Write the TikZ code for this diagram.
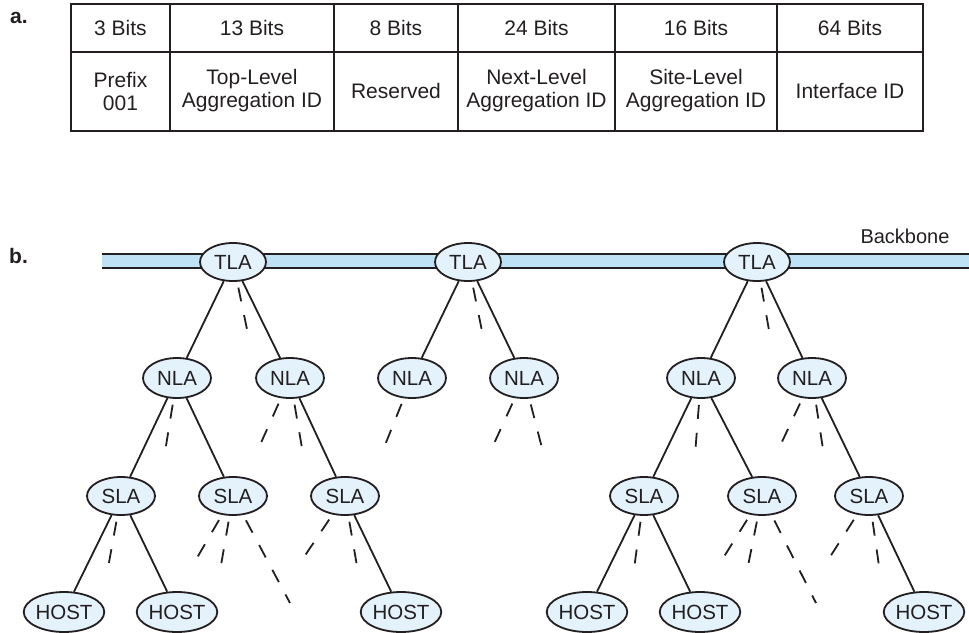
\documentclass[tikz,border=0pt]{standalone}
\usepackage{fontspec}
\setmainfont{Liberation Sans}
\usetikzlibrary{shapes.geometric,calc}
\definecolor{ink}{HTML}{231F20}
\definecolor{bbfill}{HTML}{BEE1F6}
\definecolor{nodefill}{HTML}{E4F2FC}
\begin{document}
\begin{tikzpicture}[x=1pt,y=-1pt,
  every node/.style={text=ink},
  celltext/.style={font=\fontsize{21}{23}\selectfont,align=center,inner sep=0pt},
  tag/.style={font=\fontsize{21}{23}\selectfont\bfseries,anchor=base west,inner sep=0pt},
  router/.style={ellipse,draw=ink,fill=nodefill,line width=1.8pt,inner sep=0pt,
    font=\fontsize{20.5}{22}\selectfont},
  tla/.style={router,minimum width=66pt,minimum height=38pt},
  nla/.style={router,minimum width=68pt,minimum height=40pt},
  sla/.style={router,minimum width=68pt,minimum height=38pt},
  host/.style={router,minimum width=78pt,minimum height=40pt},
  link/.style={draw=ink,line width=1.8pt},
  stub/.style={draw=ink,line width=1.8pt,dash pattern=on 14pt off 14pt,shorten <=6pt},
  grid/.style={draw=ink,line width=1.2pt}]
\useasboundingbox (0,0) rectangle (969,632);

% ---------- a. address format ----------
\node[tag] (la) at (10,23) {a.};
\draw[grid] (71,4) rectangle (923,131);
\draw[grid] (71,52) -- (923,52);
\foreach \x in {170,334,458,615,777} \draw[grid] (\x,4) -- (\x,131);

\node[celltext] (w1) at (120.5,28) {3 Bits};
\node[celltext] (w2) at (252,28) {13 Bits};
\node[celltext] (w3) at (396,28) {8 Bits};
\node[celltext] (w4) at (536.5,28) {24 Bits};
\node[celltext] (w5) at (696,28) {16 Bits};
\node[celltext] (w6) at (850,28) {64 Bits};

\node[celltext] (f1) at (120.5,91) {Prefix\\001};
\node[celltext] (f2) at (252,91) {Top-Level\\Aggregation ID};
\node[celltext] (f3) at (396,91) {Reserved};
\node[celltext] (f4) at (536.5,91) {Next-Level\\Aggregation ID};
\node[celltext] (f5) at (696,91) {Site-Level\\Aggregation ID};
\node[celltext] (f6) at (850,91) {Interface ID};

% ---------- b. hierarchy ----------
\node[tag] (lb) at (9,263) {b.};

% backbone bar
\fill[bbfill] (102,254) rectangle (969,268);
\draw[draw=ink,line width=2.4pt] (102,254) -- (969,254) (102,268) -- (969,268);
\node[font=\fontsize{20}{22}\selectfont,inner sep=0pt] (bb) at (905,236) {Backbone};

% top-level aggregators
\node[tla] (t1) at (233,262) {TLA};
\node[tla] (t2) at (468,262) {TLA};
\node[tla] (t3) at (757,262) {TLA};

% next-level aggregators
\node[nla] (n1) at (177,378) {NLA};
\node[nla] (n2) at (290,378) {NLA};
\node[nla] (n3) at (412,378) {NLA};
\node[nla] (n4) at (524,378) {NLA};
\node[nla] (n5) at (701,378) {NLA};
\node[nla] (n6) at (812,378) {NLA};

% site-level aggregators
\node[sla] (s1) at (121,496) {SLA};
\node[sla] (s2) at (233,496) {SLA};
\node[sla] (s3) at (345,496) {SLA};
\node[sla] (s4) at (644,496) {SLA};
\node[sla] (s5) at (762,496) {SLA};
\node[sla] (s6) at (869,496) {SLA};

% hosts
\node[host] (h1) at (64,612) {HOST};
\node[host] (h2) at (177,612) {HOST};
\node[host] (h3) at (401,612) {HOST};
\node[host] (h4) at (587,612) {HOST};
\node[host] (h5) at (700,612) {HOST};
\node[host] (h6) at (924,612) {HOST};

% solid links
\draw[link] (t1) -- (n1) (t1) -- (n2);
\draw[link] (t2) -- (n3) (t2) -- (n4);
\draw[link] (t3) -- (n5) (t3) -- (n6);
\draw[link] (n1) -- (s1) (n1) -- (s2);
\draw[link] (n2) -- (s3);
\draw[link] (n5) -- (s4) (n5) -- (s5);
\draw[link] (n6) -- (s6);
\draw[link] (s1) -- (h1) (s1) -- (h2);
\draw[link] (s3) -- (h3);
\draw[link] (s4) -- (h4) (s4) -- (h5);
\draw[link] (s6) -- (h6);

% dashed stubs: further branches not drawn
\foreach \p/\e/\dx/\dy in {
  t1/t1a/15/72, t2/t2a/15/74, t3/t3a/13/74,
  n1/n1a/-12/74,
  n2/n2a/-30/67, n2/n2b/12/70,
  n3/n3a/-27/67,
  n4/n4a/-32/70, n4/n4b/19/74,
  n5/n5a/-6/77,
  n6/n6a/-32/68, n6/n6b/11/71,
  s1/s1a/-13/72,
  s2/s2a/-39/67, s2/s2b/-13/75, s2/s2c/57/107,
  s3/s3a/-43/64, s3/s3b/13/76,
  s4/s4a/-10/73,
  s5/s5a/-42/67, s5/s5b/-15/75, s5/s5c/54/107,
  s6/s6a/-41/64, s6/s6b/11/77}
{
  \coordinate (\e) at ($(\p)+(\dx,\dy)$);
  \draw[stub] (\p) -- (\e);
}
\end{tikzpicture}
\end{document}
